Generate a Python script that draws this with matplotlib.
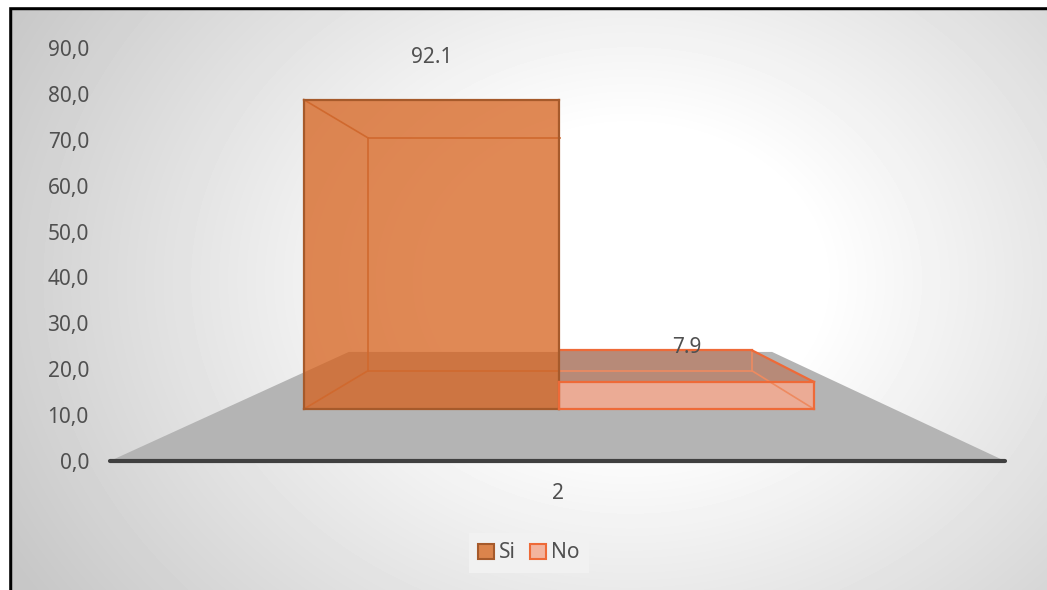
import numpy as np
import matplotlib.pyplot as plt
from matplotlib.patches import Polygon, Patch
from matplotlib.ticker import FuncFormatter

plt.rcParams["font.family"] = ["Noto Sans", "DejaVu Sans"]

# ── Data ──────────────────────────────────────────────────────────────────────
categories = ["2"]
series = ["Si", "No"]
values = [92.1, 7.9]
y_ticks = [0, 10, 20, 30, 40, 50, 60, 70, 80, 90]
y_max = 90

# ── Styling ───────────────────────────────────────────────────────────────────
TEXT = "#505050"
face_col = {"Si": ("#D6601A", 0.74), "No": ("#EBAB95", 1.0)}
top_col = {"Si": None, "No": "#B78A78"}
edge_out = {"Si": "#A65A2B", "No": "#EE6A38"}
edge_in = {"Si": "#D0692E", "No": "#EE8A60"}
legend_face = {"Si": "#DB844C", "No": "#F3B49E"}

# ── Scene / camera (data units of the main axes) ─────────────────────────────
W, H, DPI = 1047, 590, 100
L, R, T, B = 100, 1030, 30, 480          # axes box in pixels
PX = 4.589                                # pixels per value unit
V0 = 461                                  # pixel row of value 0
UC, VH = 100.9, 45.1                      # vanishing point (eye)
FLOOR_X, FLOOR_Z = (2.18, 197.2), (1.0, 2.114)
BAR_Z = (1.335, 1.771)
CAT_X, BAR_W = 99.7, 74.2


def proj(x, y, z):
    return UC + (x - UC) / z, VH + (y - VH) / z


fig = plt.figure(figsize=(W / DPI, H / DPI), dpi=DPI)

# radial background
bg = fig.add_axes([0, 0, 1, 1])
gx, gy = np.meshgrid(np.arange(W), np.arange(H))
r = np.hypot(gx - 630, (gy - 280) * 1.25)
shade = 1.0 - 0.22 * np.clip((r - 190) / 520, 0, 1)
bg.imshow(shade, cmap="gray", vmin=0, vmax=1, extent=[0, W, H, 0], aspect="auto")
bg.set_xlim(0, W)
bg.set_ylim(H, 0)
bg.axis("off")
bg.plot([10, 10], [8, H + 5], color="black", lw=3.2, solid_capstyle="projecting")
bg.plot([10, W + 5], [8, 8], color="black", lw=3.2, solid_capstyle="projecting")
bg.fill_between([0, 8.4], 0, H, color="white", zorder=3)
bg.fill_between([0, W], 0, 6.4, color="white", zorder=3)

ax = fig.add_axes([L / W, 1 - B / H, (R - L) / W, (B - T) / H])
ax.set_facecolor("none")
ax.set_xlim(0, (R - L) / PX)
ax.set_ylim(-(B - V0) / PX, (V0 - T) / PX)
for s in ax.spines.values():
    s.set_visible(False)

# floor
fx0, fx1 = FLOOR_X
zf, zb = FLOOR_Z
floor = [proj(fx0, 0, zf), proj(fx1, 0, zf), proj(fx1, 0, zb), proj(fx0, 0, zb)]
ax.add_patch(Polygon(floor, closed=True, fc="#B4B4B4", ec="none", zorder=1, clip_on=False))
ax.plot([floor[0][0], floor[1][0]], [0, 0], color="#404040", lw=3,
        solid_capstyle="round", zorder=2, clip_on=False)


def seg(p, q, color, lw=1.4, z=5):
    ax.plot([p[0], q[0]], [p[1], q[1]], color=color, lw=lw, zorder=z, clip_on=False)


z1, z2 = BAR_Z
for i, (name, val) in enumerate(zip(series, values)):
    x0 = CAT_X - BAR_W + i * BAR_W
    x1 = x0 + BAR_W
    y1 = min(val, y_max)
    fbl, fbr = proj(x0, 0, z1), proj(x1, 0, z1)
    ftl, ftr = proj(x0, y1, z1), proj(x1, y1, z1)
    bbl, bbr = proj(x0, 0, z2), proj(x1, 0, z2)
    btl, btr = proj(x0, y1, z2), proj(x1, y1, z2)

    if top_col[name]:
        ax.add_patch(Polygon([ftl, ftr, btr, btl], closed=True, fc=top_col[name],
                             ec="none", zorder=3, clip_on=False))
    fc, alpha = face_col[name]
    ax.add_patch(Polygon([fbl, fbr, ftr, ftl], closed=True, fc=fc, alpha=alpha,
                         ec="none", zorder=4, clip_on=False))

    # hidden edges seen through the box
    ein = edge_in[name]
    seg(bbl, bbr, ein, 1.2)
    seg(btl, btr, ein, 1.2)
    if i == 0:
        seg(bbl, btl, ein, 1.2)
        seg(fbl, bbl, ein, 1.2)
        seg(ftl, btl, ein, 1.2)
    else:
        seg(bbr, btr, ein, 1.2)
        seg(fbr, bbr, ein, 1.2)
        seg(ftr, btr, edge_out[name], 1.6)
        seg(btl, btr, edge_out[name], 1.6)

    # outline of the front face
    eo = edge_out[name]
    for p, q in [(fbl, fbr), (fbr, ftr), (ftr, ftl), (ftl, fbl)]:
        seg(p, q, eo, 1.6, 6)

    # value label
    lx, ly = proj((x0 + x1) / 2, val, z1)
    ax.annotate(f"{val:.1f}", (lx, ly), xytext=(0, 25), textcoords="offset points",
                ha="center", va="center", fontsize=15, color=TEXT, zorder=8)

# axes ticks
ax.set_yticks(y_ticks)
ax.yaxis.set_major_formatter(FuncFormatter(lambda v, _: f"{v:.1f}".replace(".", ",")))
ax.set_xticks([proj(CAT_X, 0, 1)[0]])
ax.set_xticklabels(categories)
ax.tick_params(axis="y", length=0, pad=8, labelsize=15, labelcolor=TEXT)
ax.tick_params(axis="x", length=0, pad=2, labelsize=15, labelcolor=TEXT)

handles = [Patch(fc=legend_face[n], ec=edge_out[n], lw=1.5, label=n) for n in series]
leg = fig.legend(handles=handles, loc="center", bbox_to_anchor=(529 / W, 1 - 553 / H),
                 ncol=2, fontsize=15, frameon=True, fancybox=False, handlelength=0.75,
                 handleheight=0.75, handletextpad=0.25, columnspacing=0.7,
                 borderpad=0.45, labelcolor=TEXT)
leg.get_frame().set_facecolor("#F2F2F2")
leg.get_frame().set_edgecolor("none")
leg.get_frame().set_alpha(0.9)

fig.savefig("out.png", dpi=DPI)
